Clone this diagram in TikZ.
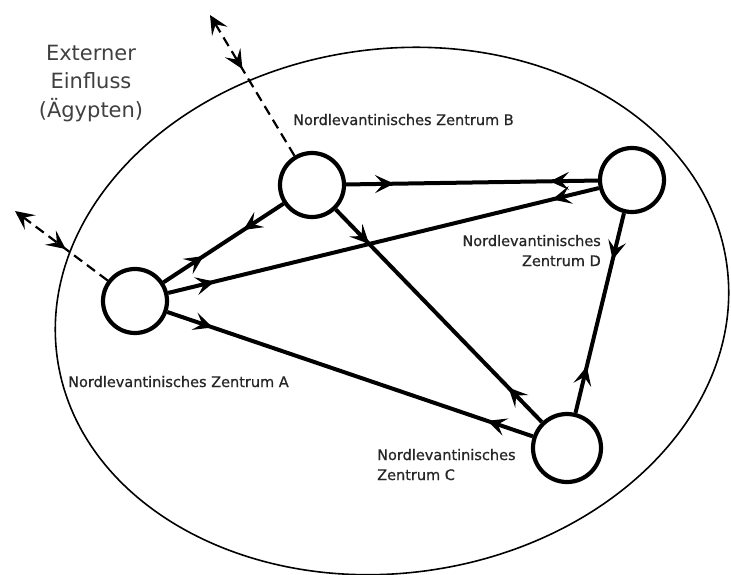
\documentclass[tikz,border=0pt]{standalone}
\usepackage{fontspec}
\setmainfont{DejaVu Sans}
\newfontfamily\etikettfont[FakeBold=0.7]{DejaVu Sans}
\usetikzlibrary{arrows.meta,decorations.markings}
\tikzset{
  pfeil/.tip={Stealth[length=19pt,width=18pt,inset=8pt]},
  zentrum/.style={circle,draw,line width=4.2pt,minimum size=64pt,inner sep=0pt},
  beziehung/.style={line width=4pt,postaction={decorate},
    decoration={markings,
      mark=at position 48pt with {\arrow{pfeil}},
      mark=at position -48pt with {\arrowreversed{pfeil}}}},
  einfluss/.style={line width=2.2pt,dash pattern=on 10pt off 6pt,-{pfeil},
    postaction={decorate,-},
    decoration={markings,mark=at position -63pt with {\arrowreversed{pfeil}}}},
  etikett/.style={text=black!85,inner sep=0pt,font=\etikettfont\fontsize{14.5}{20}\selectfont}
}
\begin{document}
\begin{tikzpicture}[x=1pt,y=-1pt]
\useasboundingbox (0,0) rectangle (731,574);
% Region
\draw[line width=1.6pt,rotate around={8:(392,311)}] (392,311) ellipse [x radius=338pt,y radius=262pt];
% Zentren
\node[zentrum] (A) at (135,301) {};
\node[zentrum] (B) at (312,185) {};
\node[zentrum] (D) at (632,180) {};
\node[zentrum,minimum size=68pt] (C) at (567,448) {};
% Beziehungen
\draw[beziehung] (A) -- (B);
\draw[beziehung] (A) -- (D);
\draw[beziehung] (A) -- (C);
\draw[beziehung] (B) -- (D);
\draw[beziehung] (B) -- (C);
\draw[beziehung] (D) -- (C);
% externer Einfluss
\coordinate (agA) at (15,211);
\coordinate (agB) at (210,15);
\draw[einfluss] (A) -- (agA);
\draw[einfluss] (B) -- (agB);
% Beschriftung
\node[text=black!75,align=center,anchor=base,font=\fontsize{21}{28.5}\selectfont] (ext) at (91,117) {Externer\\Einfluss\\(Ägypten)};
\node[etikett,anchor=base west] (lA) at (68,387) {Nordlevantinisches Zentrum A};
\node[etikett,anchor=base west] (lB) at (293,125) {Nordlevantinisches Zentrum B};
\node[etikett,align=left,anchor=base west] (lC) at (377,480) {Nordlevantinisches\\Zentrum C};
\node[etikett,align=right,anchor=base east] (lD) at (601,266) {Nordlevantinisches\\Zentrum D};
\end{tikzpicture}
\end{document}
